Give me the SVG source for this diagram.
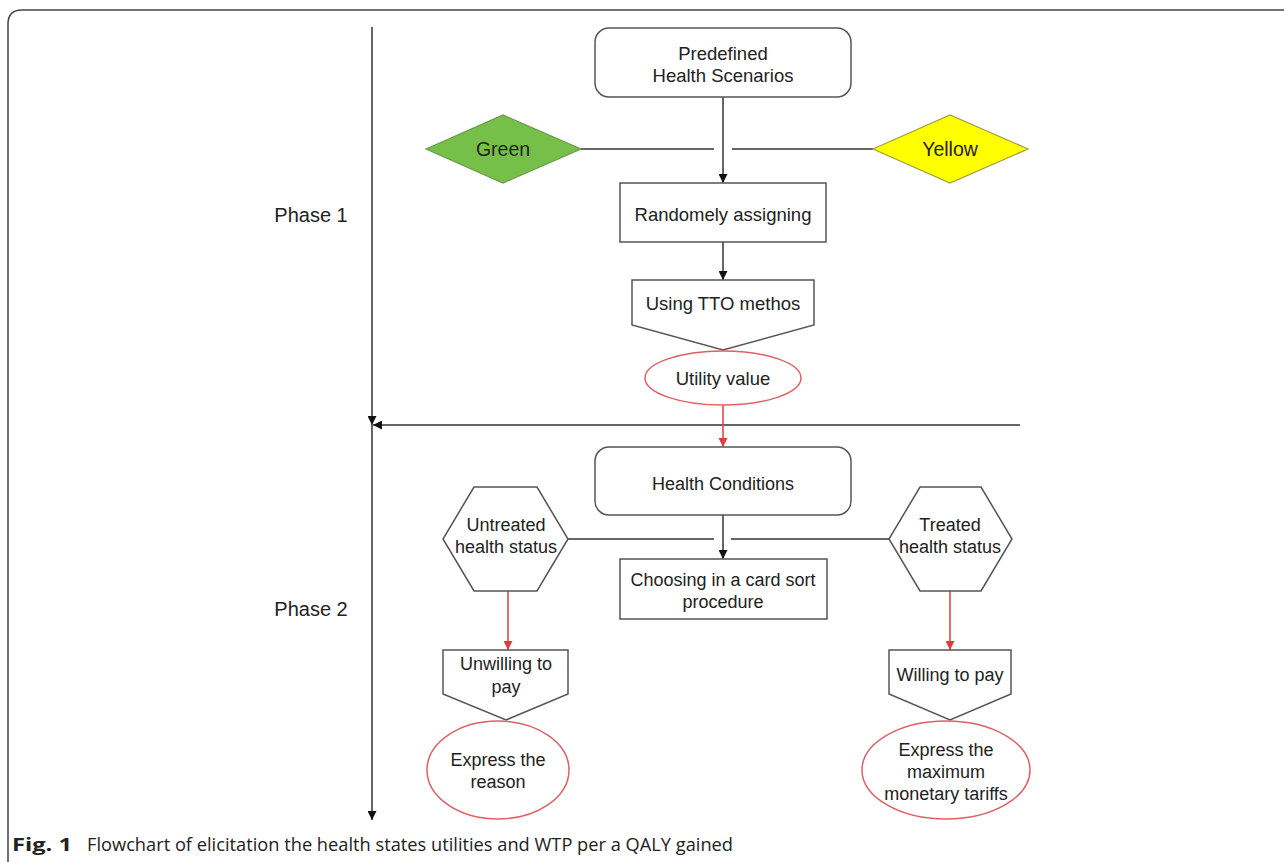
<svg xmlns="http://www.w3.org/2000/svg" width="1284" height="862" viewBox="0 0 1284 862">
<style>
.t{font-family:"Liberation Sans",Arial,sans-serif;font-size:18px;fill:#222;text-anchor:middle}
.p{font-size:18.5px}
.big{font-size:20px}
.mid{font-size:19.5px}
.n{fill:#fff;stroke:#555;stroke-width:1.5}
.e{fill:#fff;stroke:#e06066;stroke-width:1.5}
.k{fill:none;stroke:#333;stroke-width:1.5}
.r{fill:none;stroke:#e03c3c;stroke-width:1.5}
</style>
<defs>
<marker id="ab" viewBox="0 0 10 10" refX="10" refY="5" markerWidth="9" markerHeight="9" markerUnits="userSpaceOnUse" orient="auto"><path d="M0,0 L10,5 L0,10 z" fill="#111"/></marker>
<marker id="ar" viewBox="0 0 10 10" refX="10" refY="5" markerWidth="9" markerHeight="9" markerUnits="userSpaceOnUse" orient="auto"><path d="M0,0 L10,5 L0,10 z" fill="#e03c3c"/></marker>
</defs>
<rect width="1284" height="862" fill="#fff"/>
<path d="M8,862 V24 Q8,10 22,10 H1284" fill="none" stroke="#444" stroke-width="1.5"/>

<g id="connectors">
<line class="k" x1="372" y1="27" x2="372" y2="425" marker-end="url(#ab)"/>
<line class="k" x1="372" y1="425" x2="372" y2="820" marker-end="url(#ab)"/>
<line class="k" x1="1020" y1="425" x2="373" y2="425" marker-end="url(#ab)"/>
<line class="k" x1="723" y1="97" x2="723" y2="183" marker-end="url(#ab)"/>
<line class="k" x1="581" y1="149" x2="714" y2="149"/>
<line class="k" x1="732" y1="149" x2="873" y2="149"/>
<line class="k" x1="723" y1="242" x2="723" y2="280" marker-end="url(#ab)"/>
<line class="r" x1="723" y1="405" x2="723" y2="447" marker-end="url(#ar)"/>
<line class="k" x1="723" y1="515" x2="723" y2="559" marker-end="url(#ab)"/>
<line class="k" x1="568" y1="539" x2="714" y2="539"/>
<line class="k" x1="731" y1="539" x2="889" y2="539"/>
<line class="r" x1="508" y1="591" x2="508" y2="650" marker-end="url(#ar)"/>
<line class="r" x1="950" y1="591" x2="950" y2="650" marker-end="url(#ar)"/>
</g>

<g id="phase1"><text class="t big" x="311" y="222">Phase 1</text></g>
<g id="phase2"><text class="t big" x="311" y="616">Phase 2</text></g>

<g id="predefined">
<rect class="n" x="595" y="28" width="256" height="69" rx="14"/>
<text class="t p" x="723" y="60">Predefined</text>
<text class="t p" x="723" y="82">Health Scenarios</text>
</g>
<g id="green">
<polygon points="426,149 503,115 581,149 503,183" fill="#76bf48" stroke="#6a9a50" stroke-width="1.2"/>
<text class="t mid" x="503" y="156">Green</text>
</g>
<g id="yellow">
<polygon points="873,149 950,115 1028,149 950,183" fill="#ffff00" stroke="#a0a040" stroke-width="1.2"/>
<text class="t mid" x="950" y="156">Yellow</text>
</g>
<g id="randomly">
<rect class="n" x="620" y="183" width="206" height="59"/>
<text class="t p" x="723" y="221">Randomely assigning</text>
</g>
<g id="tto">
<polygon class="n" points="632,280 814,280 814,325 723,350 632,325"/>
<text class="t p" x="723" y="310">Using TTO methos</text>
</g>
<g id="utility">
<ellipse class="e" cx="723" cy="378" rx="78" ry="27"/>
<text class="t p" x="723" y="385">Utility value</text>
</g>
<g id="conditions">
<rect class="n" x="595" y="447" width="256" height="68" rx="14"/>
<text class="t" x="723" y="490">Health Conditions</text>
</g>
<g id="untreated">
<polygon class="n" points="474,487 537,487 568,539 537,591 474,591 443,539"/>
<text class="t" x="506" y="531">Untreated</text>
<text class="t" x="506" y="553">health status</text>
</g>
<g id="choosing">
<rect class="n" x="620" y="559" width="207" height="60"/>
<text class="t" x="723" y="586">Choosing in a card sort</text>
<text class="t" x="723" y="608">procedure</text>
</g>
<g id="treated">
<polygon class="n" points="920,487 981,487 1012,539 981,591 920,591 889,539"/>
<text class="t" x="950" y="531">Treated</text>
<text class="t" x="950" y="553">health status</text>
</g>
<g id="unwilling">
<polygon class="n" points="443,650 568,650 568,694 506,720 443,694"/>
<text class="t" x="506" y="670">Unwilling to</text>
<text class="t" x="506" y="693">pay</text>
</g>
<g id="willing">
<polygon class="n" points="889,650 1011,650 1011,694 950,720 889,694"/>
<text class="t" x="950" y="681">Willing to pay</text>
</g>
<g id="reason">
<ellipse class="e" cx="498" cy="770" rx="71" ry="49"/>
<text class="t" x="498" y="766">Express the</text>
<text class="t" x="498" y="788">reason</text>
</g>
<g id="tariffs">
<ellipse class="e" cx="946" cy="770" rx="84" ry="49"/>
<text class="t" x="946" y="756">Express the</text>
<text class="t" x="946" y="778">maximum</text>
<text class="t" x="946" y="800">monetary tariffs</text>
</g>

<g id="caption">
<text x="12" y="851" font-family="'Open Sans','Noto Sans',sans-serif" font-size="18" fill="#222"><tspan font-weight="bold" textLength="60" lengthAdjust="spacingAndGlyphs">Fig. 1</tspan></text>
<text x="87" y="851" font-family="'Open Sans','Noto Sans',sans-serif" font-size="18" fill="#222" textLength="646" lengthAdjust="spacingAndGlyphs">Flowchart of elicitation the health states utilities and WTP per a QALY gained</text>
</g>
</svg>
